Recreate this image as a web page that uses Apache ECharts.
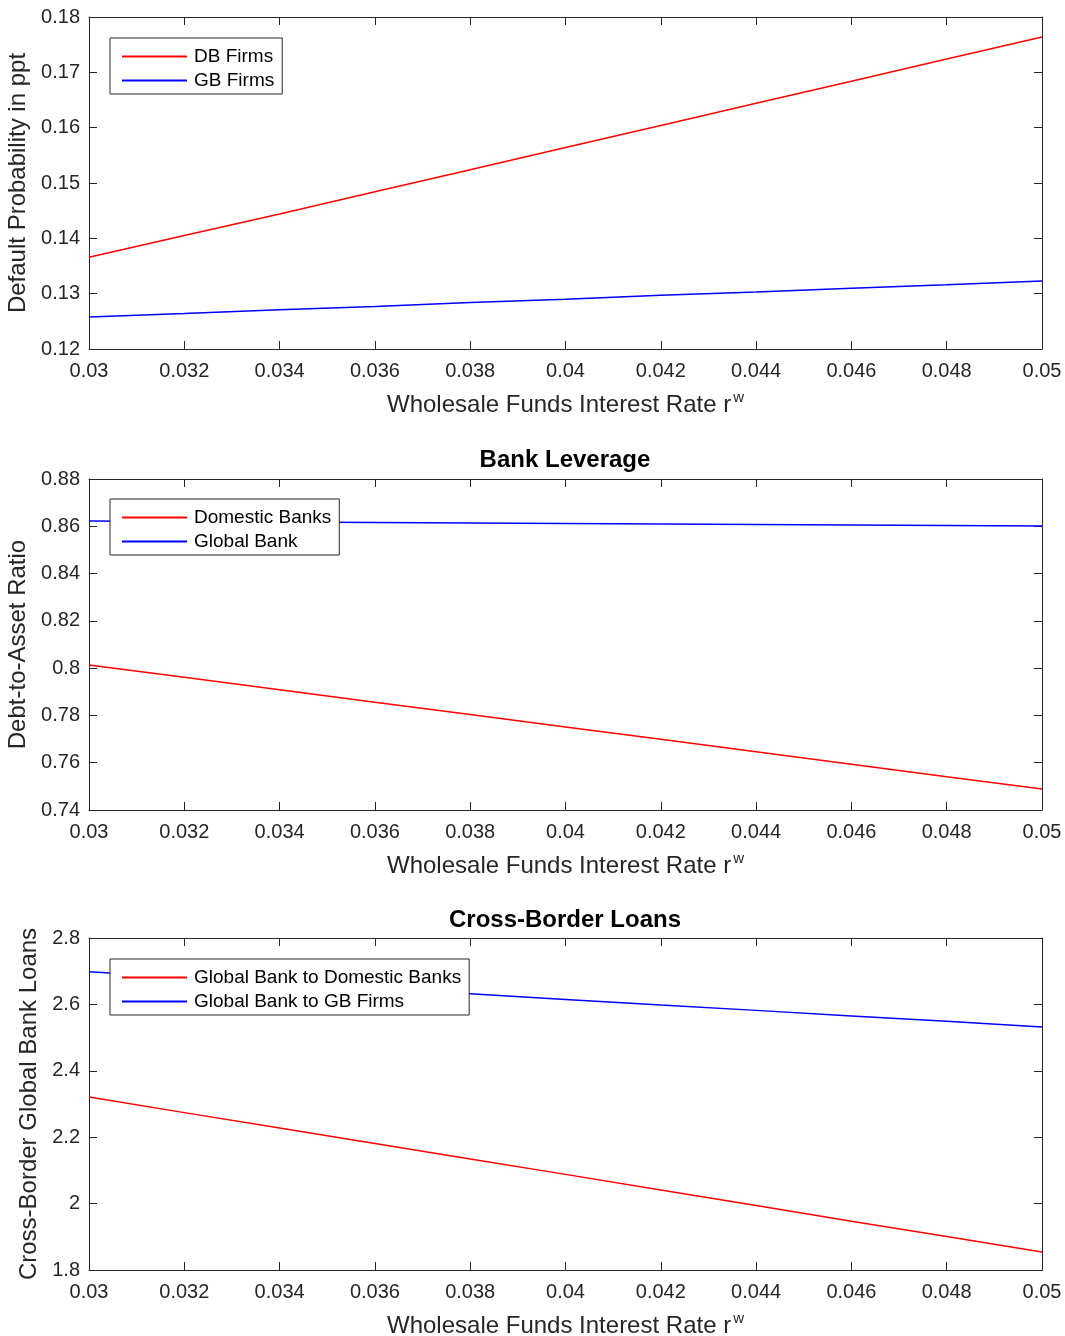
<!DOCTYPE html>
<html>
<head>
<meta charset="utf-8">
<script src="https://cdn.jsdelivr.net/npm/echarts@6/dist/echarts.min.js"></script>
<style>
  html, body { margin: 0; padding: 0; background: #fff; overflow: hidden; }
  #chart { width: 1065px; height: 1336px; }
</style>
</head>
<body>
<div id="chart"></div>
<script>
// x grid shared by all three panels
const rates = [0.03, 0.032, 0.034, 0.036, 0.038, 0.04, 0.042, 0.044, 0.046, 0.048, 0.05];

// panel 1: default probability (ppt)
const dbFirms = [0.1366, 0.1405, 0.1444, 0.1484, 0.1524, 0.1564, 0.1604, 0.1644, 0.1684, 0.1724, 0.1764];
const gbFirms = [0.1258, 0.1264, 0.1271, 0.1277, 0.1284, 0.1290, 0.1297, 0.1303, 0.1310, 0.1316, 0.1323];

// panel 2: bank leverage
const domesticBanks = [0.8013, 0.7961, 0.7909, 0.7856, 0.7804, 0.7751, 0.7699, 0.7646, 0.7594, 0.7541, 0.7489];
const globalBank = [0.8622, 0.8620, 0.8618, 0.8616, 0.8614, 0.8612, 0.8610, 0.8608, 0.8605, 0.8603, 0.8601];

// panel 3: cross-border loans
const gbToDomestic = [2.321, 2.274, 2.228, 2.181, 2.134, 2.088, 2.041, 1.994, 1.947, 1.901, 1.854];
const gbToFirms = [2.698, 2.681, 2.665, 2.648, 2.632, 2.615, 2.598, 2.582, 2.565, 2.549, 2.532];

const AX = '#262626';
const FONT = 'Liberation Sans, Arial, Helvetica, sans-serif';

const grids = [
  { left: 89, right: 23, top: 17, height: 332, outerBoundsMode: 'none' },
  { left: 89, right: 23, top: 479, height: 331, outerBoundsMode: 'none' },
  { left: 89, right: 23, top: 938, height: 332, outerBoundsMode: 'none' }
];

const yRanges = [
  { min: 0.12, max: 0.18, interval: 0.01, name: 'Default Probability in ppt', gap: 54 },
  { min: 0.74, max: 0.88, interval: 0.02, name: 'Debt-to-Asset Ratio', gap: 54 },
  { min: 1.8, max: 2.8, interval: 0.2, name: 'Cross-Border Global Bank Loans', gap: 43 }
];

const fmt = v => String(parseFloat(v.toFixed(4)));

const xAxes = [];
const yAxes = [];
grids.forEach((g, i) => {
  xAxes.push({
    type: 'value', gridIndex: i, min: 0.03, max: 0.05, interval: 0.002,
    axisLine: { show: true, lineStyle: { color: AX, width: 1 } },
    axisTick: { inside: true, length: 8, lineStyle: { color: AX } },
    splitLine: { show: false },
    axisLabel: { color: AX, fontSize: 20, fontFamily: FONT, margin: 12, formatter: fmt },
    name: '{a|Wholesale Funds Interest Rate r}{s|w}',
    nameLocation: 'middle', nameGap: 41,
    nameTextStyle: {
      color: AX, fontFamily: FONT,
      rich: {
        a: { fontSize: 24, fontFamily: FONT, color: AX },
        s: { fontSize: 15, fontFamily: FONT, color: AX, padding: [0, 0, 16, 2] }
      }
    }
  });
  xAxes.push({
    type: 'value', gridIndex: i, position: 'top', min: 0.03, max: 0.05, interval: 0.002,
    axisLine: { show: true, lineStyle: { color: AX, width: 1 } },
    axisTick: { inside: true, length: 8, lineStyle: { color: AX } },
    splitLine: { show: false }, axisLabel: { show: false }
  });
  const r = yRanges[i];
  yAxes.push({
    type: 'value', gridIndex: i, min: r.min, max: r.max, interval: r.interval,
    axisLine: { show: true, lineStyle: { color: AX, width: 1 } },
    axisTick: { inside: true, length: 8, lineStyle: { color: AX } },
    splitLine: { show: false },
    axisLabel: { color: AX, fontSize: 20, fontFamily: FONT, margin: 9, formatter: fmt },
    name: r.name, nameLocation: 'middle', nameGap: r.gap,
    nameTextStyle: { color: AX, fontSize: 24, fontFamily: FONT }
  });
  yAxes.push({
    type: 'value', gridIndex: i, position: 'right', min: r.min, max: r.max, interval: r.interval,
    axisLine: { show: true, lineStyle: { color: AX, width: 1 } },
    axisTick: { inside: true, length: 8, lineStyle: { color: AX } },
    splitLine: { show: false }, axisLabel: { show: false }
  });
});

function line(name, ys, panel, color) {
  return {
    name: name, type: 'line', xAxisIndex: panel * 2, yAxisIndex: panel * 2,
    data: rates.map((x, k) => [x, ys[k]]),
    symbol: 'none', showSymbol: false, animation: false,
    lineStyle: { color: color, width: 1.5 }, itemStyle: { color: color }
  };
}

function legend(names, top) {
  return {
    orient: 'vertical', left: 110, top: top,
    data: names.map(n => ({ name: n, icon: 'rect' })),
    itemWidth: 65, itemHeight: 2, itemGap: 5,
    padding: [9, 8, 4, 12],
    borderColor: AX, borderWidth: 1, backgroundColor: '#fff',
    textStyle: { color: '#000', fontSize: 19, fontFamily: FONT, padding: [0, 0, 0, 2] },
    selectedMode: false
  };
}

const titleStyle = { fontSize: 24, fontWeight: 'bold', fontFamily: FONT, color: '#000' };

const option = {
  backgroundColor: '#fff',
  animation: false,
  title: [
    { text: 'Default Probability', left: 560, textAlign: 'center', top: -31, textStyle: titleStyle },
    { text: 'Bank Leverage', left: 560, textAlign: 'center', top: 443, textStyle: titleStyle },
    { text: 'Cross-Border Loans', left: 560, textAlign: 'center', top: 903, textStyle: titleStyle }
  ],
  grid: grids,
  xAxis: xAxes,
  yAxis: yAxes,
  legend: [
    legend(['DB Firms', 'GB Firms'], 38),
    legend(['Domestic Banks', 'Global Bank'], 499),
    legend(['Global Bank to Domestic Banks', 'Global Bank to GB Firms'], 959)
  ],
  series: [
    line('DB Firms', dbFirms, 0, '#ff0000'),
    line('GB Firms', gbFirms, 0, '#0000ff'),
    line('Domestic Banks', domesticBanks, 1, '#ff0000'),
    line('Global Bank', globalBank, 1, '#0000ff'),
    line('Global Bank to Domestic Banks', gbToDomestic, 2, '#ff0000'),
    line('Global Bank to GB Firms', gbToFirms, 2, '#0000ff')
  ]
};

const myChart = echarts.init(document.getElementById('chart'));
myChart.setOption(option);
</script>
</body>
</html>
